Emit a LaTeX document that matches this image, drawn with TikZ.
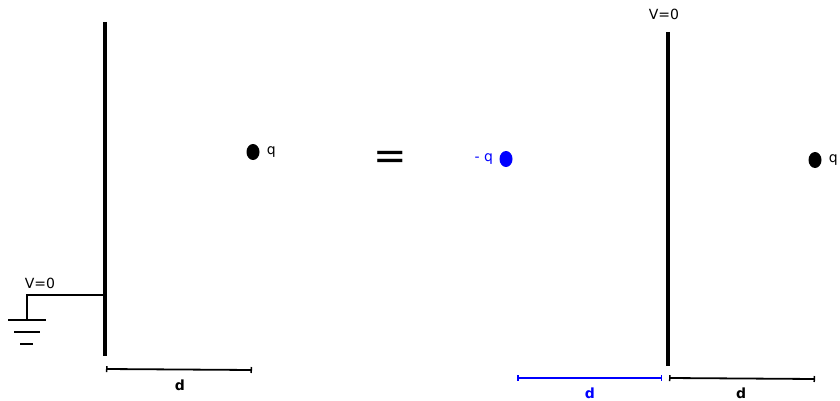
\documentclass[tikz,border=0pt]{standalone}
\usepackage{fontspec}
\setmainfont{DejaVu Sans}
\usetikzlibrary{arrows.meta, shapes.geometric}

\begin{document}
\begin{tikzpicture}[
    x=1pt, y=-1pt,
    plate/.style={line width=4.5pt},
    wire/.style={line width=2pt},
    charge/.style={ellipse, fill, inner sep=0pt, minimum width=13pt, minimum height=16pt},
    dim/.style={line width=1.8pt, {Bar[width=6pt,line width=1.5pt]}-{Bar[width=6pt,line width=1.5pt]}},
    lbl/.style={inner sep=0pt, font=\fontsize{14}{16}\selectfont},
    dlbl/.style={inner sep=0pt, font=\fontsize{14}{16}\selectfont\bfseries}
]
    \useasboundingbox (0,0) rectangle (840,401);

    % Left: grounded plate
    \coordinate (lt) at (105,22);
    \coordinate (lb) at (105,356);
    \draw[plate] (lt) -- (lb);
    \coordinate (lw) at (105,295);
    \coordinate (g) at (27,320);
    \draw[wire] (lw) -| (g);
    \coordinate (g1l) at (8,320);  \coordinate (g1r) at (46,320);
    \coordinate (g2l) at (14,332); \coordinate (g2r) at (40,332);
    \coordinate (g3l) at (20,344); \coordinate (g3r) at (33,344);
    \draw[wire] (g1l) -- (g1r);
    \draw[wire] (g2l) -- (g2r);
    \draw[wire] (g3l) -- (g3r);
    \node[lbl] (vl) at (40,283) {V=0};

    \node[charge] (ql) at (253,152) {};
    \node[lbl, right=7pt] (qlt) at (ql.east) {q};

    \coordinate (dl1) at (106,369);
    \coordinate (dl2) at (252,370);
    \draw[dim] (dl1) -- (dl2);
    \node[dlbl] (dll) at (180,385) {d};

    % Equals
    \node[inner sep=0pt, font=\fontsize{40}{40}\selectfont] (eq) at (390,160) {=};

    % Right: image charge
    \node[charge, blue] (qi) at (506,159) {};
    \node[lbl, blue, left=6pt] (qit) at (qi.west) {- q};

    \coordinate (rt) at (668,32);
    \coordinate (rb) at (668,366);
    \draw[plate] (rt) -- (rb);
    \node[lbl] (vr) at (664,14) {V=0};

    \node[charge] (qr) at (815,160) {};
    \node[lbl, right=7pt] (qrt) at (qr.east) {q};

    \coordinate (db1) at (517,378);
    \coordinate (db2) at (662,378);
    \draw[dim, blue] (db1) -- (db2);
    \node[dlbl, blue] (dbl) at (590,393) {d};

    \coordinate (dr1) at (669,378);
    \coordinate (dr2) at (815,379);
    \draw[dim] (dr1) -- (dr2);
    \node[dlbl] (drl) at (741,393) {d};
\end{tikzpicture}
\end{document}
